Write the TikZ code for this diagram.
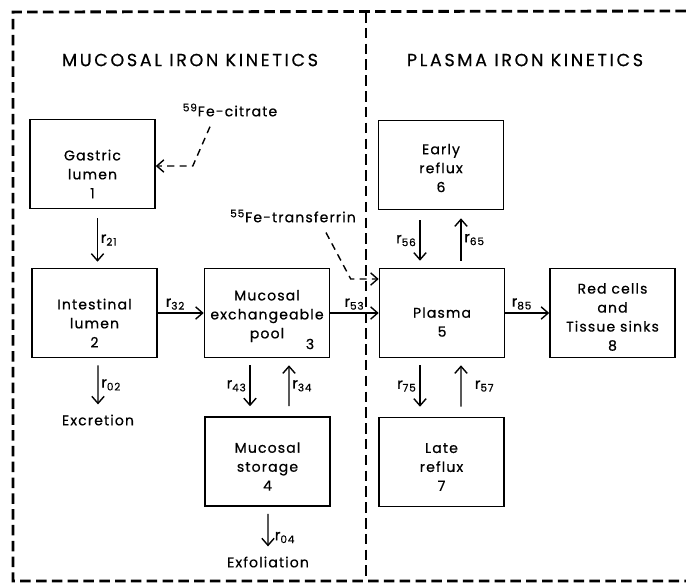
\documentclass[tikz,border=0pt]{standalone}
\usepackage{fontspec}
\setmainfont{Poppins}[LetterSpace=8, FakeBold=0.6]
\usetikzlibrary{arrows.meta,calc}

\tikzset{
    comp/.style = {draw, line width=0.9pt, minimum width=2.5cm, minimum height=1.78cm, inner sep=0pt},
    inbox/.style = {align=center, inner sep=0pt, font=\fontsize{8}{10.8}\selectfont},
    title/.style = {font=\fontsize{10}{12}\selectfont\addfontfeatures{LetterSpace=15}},
    plain/.style = {font=\fontsize{8}{10}\selectfont},
    rate/.style = {font=\fontsize{8.5}{9}\selectfont, inner sep=1.5pt},
    flow/.style = {-{Straight Barb[length=4pt,width=7pt]}, line width=0.8pt},
    tracer/.style = {flow, dash pattern=on 4pt off 3pt},
    frame/.style = {line width=1.6pt, dash pattern=on 6pt off 3pt},
}

\begin{document}
\begin{tikzpicture}[x=0.02cm, y=-0.02cm]
    \useasboundingbox (0,0) rectangle (686,583);

    % Dashed frame and divider
    \draw[frame] (686,11) -- (13,12) -- (13,581) -- (686,581);
    \draw[frame] (366,12) -- (366,581);

    % Titles
    \node[title] (mucotitle) at (190,60) {MUCOSAL IRON KINETICS};
    \node[title] (plastitle) at (525,60) {PLASMA IRON KINETICS};

    % Compartments
    \node[comp] (gastric) at (92.5,164) {};
    \node[comp] (intestine) at (94.5,313) {};
    \node[comp] (pool) at (267,313) {};
    \node[comp] (storage) at (267.5,461.5) {};
    \node[comp] (plasma) at (442,313) {};
    \node[comp] (early) at (441,165) {};
    \node[comp] (late) at (441.5,462) {};
    \node[comp] (sinks) at (612.5,313) {};

    % Their texts
    \node[inbox] (gastrictext) at ($(gastric)+(0,10)$) {Gastric\\lumen\\1};
    \node[inbox] (intestinetext) at ($(intestine)+(0,10)$) {Intestinal\\lumen\\2};
    \node[inbox] (pooltext) at ($(pool)+(0,3)$) {Mucosal\\exchangeable\\pool};
    \node[plain] (poolnum) at (310,344) {3};
    \node[inbox] (storagetext) at ($(storage)+(0,5)$) {Mucosal\\storage\\4};
    \node[inbox] (plasmatext) at ($(plasma)+(0,9)$) {Plasma\\5};
    \node[inbox] (earlytext) at ($(early)+(0,3)$) {Early\\reflux\\6};
    \node[inbox] (latetext) at ($(late)+(0,5)$) {Late\\reflux\\7};
    \node[inbox] (sinkstext) at ($(sinks)+(0,4)$) {Red cells\\and\\Tissue sinks\\8};

    % Losses
    \node[plain] (excretion) at (98,420) {Excretion};
    \node[plain] (exfoliation) at (268,562) {Exfoliation};

    % Tracers
    \node[plain] (citrate) at (230,110) {\textsuperscript{59}Fe-citrate};
    \node[plain] (transferrin) at (293,216) {\textsuperscript{55}Fe-transferrin};

    % Transfers in the mucosa
    \draw[flow] ($(gastric.south)+(5,9)$) -- ($(intestine.north)+(3,-6)$)
        node[rate, midway, right] {r\textsubscript{21}};
    \draw[flow] (intestine.east) -- (pool.west)
        node[rate, midway, above, xshift=-3] {r\textsubscript{32}};
    \draw[flow] ($(intestine.south)+(3.5,7)$) -- ($(excretion.north)+(0,-4)$)
        node[rate, midway, right] {r\textsubscript{02}};
    \draw[flow] ($(pool.south)+(-17,7)$) -- ($(storage.north)+(-17.5,-10)$)
        node[rate, midway, left] {r\textsubscript{43}};
    \draw[flow] ($(storage.north)+(21.5,-10)$) -- ($(pool.south)+(22,7)$)
        node[rate, midway, right] {r\textsubscript{34}};
    \draw[flow] ($(storage.south)+(0.5,7)$) -- ($(exfoliation.north)+(0,-4)$)
        node[rate, at end, anchor=south west, xshift=2pt] {r\textsubscript{04}};

    % Transfers in the plasma
    \draw[flow] (pool.east) -- (plasma.west)
        node[rate, midway, above] {r\textsubscript{53}};
    \draw[flow] (plasma.east) -- (sinks.west)
        node[rate, midway, above, xshift=-3] {r\textsubscript{85}};
    \draw[flow] ($(early.south)+(-21,10)$) -- ($(plasma.north)+(-22,-7)$)
        node[rate, midway, left] {r\textsubscript{56}};
    \draw[flow] ($(plasma.north)+(19,-7)$) -- ($(early.south)+(20,8)$)
        node[rate, midway, right] {r\textsubscript{65}};
    \draw[flow] ($(plasma.south)+(-22,7)$) -- ($(late.north)+(-21.5,-10)$)
        node[rate, midway, left] {r\textsubscript{75}};
    \draw[flow] ($(late.north)+(19.5,-10)$) -- ($(plasma.south)+(19,7)$)
        node[rate, midway, right, xshift=6] {r\textsubscript{57}};

    % Tracer doses
    \draw[tracer] ($(citrate.south)+(-20,4)$) -- ($(gastric.east)+(37,2)$) -- ($(gastric.east)+(0,2)$);
    \draw[tracer] ($(transferrin.south)+(33,4)$) -- ($(plasma.west)+(-28,-34)$) -- ($(plasma.west)+(0,-34)$);
\end{tikzpicture}
\end{document}
